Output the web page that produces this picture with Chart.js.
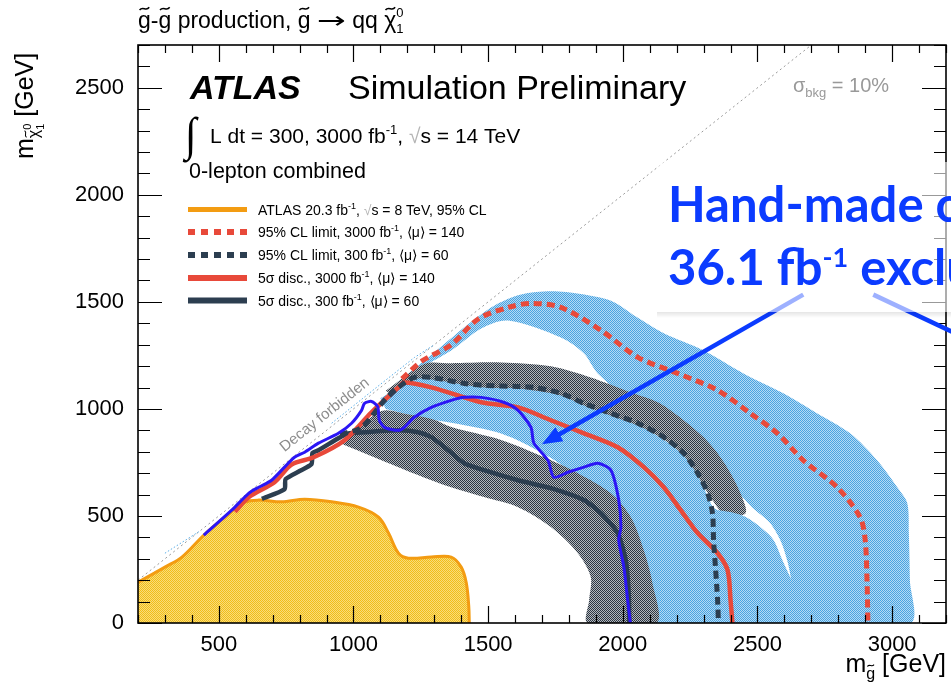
<!DOCTYPE html>
<html>
<head>
<meta charset="utf-8">
<script src="https://cdn.jsdelivr.net/npm/chart.js@4.4.1/dist/chart.umd.min.js"></script>
<style>
  html, body { margin: 0; padding: 0; background: #fff; }
  canvas { display: block; }
</style>
</head>
<body>
<canvas id="c" width="951" height="698"></canvas>
<script>
// ---------- axis ticks ----------
const xTickLabels = [500, 1000, 1500, 2000, 2500, 3000];
const yTickLabels = [0, 500, 1000, 1500, 2000, 2500];

// ---------- contours, [m_gluino, m_neutralino] in GeV ----------
// kinematic limit m(chi) = m(gluino)
const kinLimit = [[200, 200], [2700, 2700]];

// ATLAS 20.3 fb-1, 8 TeV observed exclusion (filled down to zero)
const atlas8TeV = [[200, 190], [300, 261], [363, 308], [444, 410], [522, 494], [596, 564], [648, 574],
  [733, 566], [819, 578], [919, 566], [1019, 541], [1093, 494], [1130, 420], [1167, 326], [1204, 303],
  [1289, 308], [1363, 308], [1400, 261], [1419, 187], [1428, 80], [1430, 0]];

// +-1 sigma band of the 3000 fb-1 95% CL limit (outer edge, then inner edge back)
const band3000LimitOuter = [[1150, 1110], [1300, 1265], [1440, 1410], [1530, 1488], [1622, 1535], [1733, 1550],
  [1844, 1537], [1956, 1505], [2050, 1430], [2152, 1353], [2300, 1273], [2448, 1166], [2596, 1073], [2722, 979],
  [2844, 886], [2944, 760], [3019, 634], [3056, 560], [3062, 420], [3066, 200], [3068, 0]];
const band3000LimitInner = [[2635, 0], [2630, 100], [2625, 200], [2611, 290], [2585, 387], [2545, 470],
  [2480, 540], [2437, 597], [2289, 760], [2067, 993], [1907, 1166], [1856, 1259], [1770, 1334], [1574, 1413],
  [1474, 1376], [1363, 1273], [1230, 1180]];
// dotted outline of the same band close to the kinematic limit
const band3000EdgeLow = [[300, 326], [430, 430]];
const band3000EdgeHigh = [[919, 933], [1100, 1115], [1226, 1240], [1300, 1300]];

// +-1 sigma band of the 300 fb-1 95% CL limit
const band300LimitOuter = [[1120, 1085], [1263, 1210], [1363, 1213], [1548, 1217], [1733, 1199], [1881, 1147],
  [2030, 1077], [2130, 1031], [2226, 947], [2300, 868], [2352, 793], [2400, 700], [2437, 606], [2456, 513]];
const band300LimitInner = [[2380, 505], [2320, 600], [2270, 700], [2210, 800], [2120, 880], [1960, 955],
  [1780, 1040], [1611, 1080], [1485, 1085], [1289, 1110], [1150, 1060]];

// +-1 sigma band of the 3000 fb-1 5 sigma discovery
const band3000DiscOuter = [[1100, 1050], [1226, 1138], [1289, 1138], [1485, 1100], [1611, 1095], [1770, 1063],
  [1856, 1016], [1956, 968], [2056, 922], [2152, 856], [2226, 782], [2278, 688], [2315, 594], [2340, 535],
  [2400, 518], [2455, 496], [2518, 440], [2560, 387], [2594, 290], [2630, 190], [2655, 100], [2665, 0]];
const band3000DiscInner = [[2100, 0], [2090, 187], [2065, 340], [2020, 490], [1950, 600], [1833, 690],
  [1707, 790], [1548, 885], [1363, 935], [1250, 960], [1120, 1000]];

// +-1 sigma band of the 300 fb-1 5 sigma discovery
const band300DiscOuter = [[960, 850], [1104, 990], [1200, 975], [1300, 950], [1363, 915], [1548, 855],
  [1707, 775], [1833, 700], [1956, 606], [2030, 494], [2078, 340], [2110, 187], [2125, 0]];
const band300DiscInner = [[1870, 0], [1875, 107], [1881, 215], [1833, 326], [1733, 448], [1611, 541],
  [1485, 588], [1363, 634], [1289, 667], [1167, 728], [960, 835]];

// expected contours
const limit3000 = [[1180, 1140], [1252, 1222], [1363, 1300], [1463, 1420], [1574, 1474], [1659, 1493],
  [1770, 1474], [1919, 1367], [2056, 1241], [2204, 1166], [2352, 1087], [2474, 979], [2574, 886], [2670, 760],
  [2796, 634], [2881, 494], [2900, 387], [2907, 187], [2910, 0]];
const limit300 = [[950, 880], [1030, 914], [1115, 1040], [1167, 1101], [1226, 1147], [1289, 1147], [1411, 1119],
  [1485, 1110], [1611, 1105], [1670, 1101], [1770, 1073], [1856, 1026], [1956, 979], [2056, 933], [2152, 868],
  [2226, 793], [2278, 700], [2315, 606], [2333, 513], [2337, 387], [2344, 261], [2352, 107], [2355, 0]];
const disc3000 = [[560, 520], [611, 588], [707, 658], [770, 740], [852, 774], [967, 854], [1067, 984],
  [1167, 1101], [1189, 1124], [1289, 1101], [1474, 1031], [1611, 1007], [1733, 947], [1856, 886], [1981, 821],
  [2078, 728], [2152, 634], [2215, 527], [2278, 420], [2352, 326], [2389, 247], [2400, 107], [2407, 0]];
const disc300 = [[660, 580], [744, 625], [748, 672], [800, 710], [844, 742], [848, 795], [870, 807],
  [944, 863], [981, 886], [1041, 891], [1167, 900], [1241, 891], [1289, 868], [1352, 807], [1411, 746],
  [1485, 714], [1611, 667], [1733, 630], [1856, 574], [1919, 513], [1981, 420], [2011, 294], [2022, 140], [2024, 0]];

// 36.1 fb-1 exclusion contour
const excl36 = [[444, 410], [548, 527], [611, 606], [648, 634], [696, 667], [744, 728], [781, 774], [819, 798],
  [870, 840], [944, 886], [993, 933], [1030, 993], [1041, 1026], [1067, 1035], [1090, 1010], [1096, 947],
  [1115, 914], [1167, 900], [1189, 914], [1226, 961], [1289, 1007], [1363, 1040], [1411, 1054], [1474, 1054],
  [1560, 1030], [1611, 993], [1659, 914], [1670, 840], [1722, 760], [1744, 681], [1796, 704], [1856, 728],
  [1907, 746], [1956, 714], [1985, 574], [1993, 448], [1985, 387], [2004, 261], [2018, 107], [2028, 0]];

// arrows pointing at the 36.1 fb-1 contour: [from, to]
const arrowPoints = [[[2670, 1534], [1700, 835]], [[2930, 1534], [3400, 1255]]];

// legend texts
const seriesLabels = [
  [{t: 'ATLAS 20.3 fb'}, {t: '-1', sup: 1}, {t: ', '}, {t: '\u221A', root: 1}, {t: 's = 8 TeV, 95% CL'}],
  [{t: '95% CL limit, 3000 fb'}, {t: '-1', sup: 1}, {t: ', \u27E8\u03BC\u27E9 = 140'}],
  [{t: '95% CL limit, 300 fb'}, {t: '-1', sup: 1}, {t: ', \u27E8\u03BC\u27E9 = 60'}],
  [{t: '5\u03C3 disc., 3000 fb'}, {t: '-1', sup: 1}, {t: ', \u27E8\u03BC\u27E9 = 140'}],
  [{t: '5\u03C3 disc., 300 fb'}, {t: '-1', sup: 1}, {t: ', \u27E8\u03BC\u27E9 = 60'}]
];

// ---------- styles ----------
const FONT = '"Liberation Sans", Arial, Helvetica, sans-serif';
const RED = '#e8493a', DARK = '#2c3e50', ORANGE = '#f39c12', HAND = '#2b16f5', NOTE = '#0b3bff';

const mainCtx = document.getElementById('c').getContext('2d');
function checker(c1, c2) {
  const p = document.createElement('canvas');
  p.width = 2; p.height = 2;
  const g = p.getContext('2d');
  g.fillStyle = c2; g.fillRect(0, 0, 2, 2);
  g.fillStyle = c1; g.fillRect(0, 0, 1, 1); g.fillRect(1, 1, 1, 1);
  return mainCtx.createPattern(p, 'repeat');
}
const bluePat = checker('#4aa3e0', '#b3daf5');
const greyPat = checker('#2c3642', '#b4b8bd');
const yellowPat = checker('#f1bd1a', '#f9dc7a');

const pts = a => a.map(([x, y]) => ({x, y}));
function band(outer, inner, pattern, order) {
  return {data: pts(outer.concat(inner)), showLine: true, fill: 'shape', backgroundColor: pattern,
    borderWidth: 0, pointRadius: 0, tension: 0.3, order};
}
function curve(arr, color, width, dash, order, tension) {
  return {data: pts(arr), showLine: true, fill: false, borderColor: color, borderWidth: width,
    borderDash: dash, pointRadius: 0, tension: tension, order, borderCapStyle: 'butt', borderJoinStyle: 'round'};
}

const datasets = [
  curve(excl36, HAND, 3, [], 0, 0.25),
  curve(limit3000, RED, 5, [8, 5], 1, 0.3),
  curve(limit300, DARK, 5, [8, 5], 2, 0.3),
  curve(disc3000, RED, 4.5, [], 3, 0.3),
  curve(disc300, DARK, 4.5, [], 4, 0.2),
  {data: pts(atlas8TeV), showLine: true, fill: 'origin', backgroundColor: yellowPat, borderColor: ORANGE,
    borderWidth: 3, pointRadius: 0, tension: 0.35, order: 5},
  band(band300DiscOuter, band300DiscInner, greyPat, 6),
  band(band3000DiscOuter, band3000DiscInner, bluePat, 7),
  band(band300LimitOuter, band300LimitInner, greyPat, 8),
  band(band3000LimitOuter, band3000LimitInner, bluePat, 9),
  curve(band3000EdgeLow, '#5aaee8', 1, [1.5, 2], 10, 0),
  curve(band3000EdgeHigh, '#5aaee8', 1, [1.5, 2], 10, 0),
  curve(kinLimit, '#9a9a9a', 1, [2, 3], 11, 0)
];

// ---------- rich text helper (sub/superscripts, tildes) ----------
function tilde(ctx, cx, cy, w, size, color) {
  const a = size * 0.06;
  ctx.save();
  ctx.strokeStyle = color;
  ctx.lineWidth = Math.max(1, size * 0.065);
  ctx.beginPath();
  ctx.moveTo(cx - w / 2, cy + a);
  ctx.bezierCurveTo(cx - w * 0.15, cy - 2.4 * a, cx + w * 0.15, cy + 2.4 * a, cx + w / 2, cy - a);
  ctx.stroke();
  ctx.restore();
}
function run(ctx, x, y, parts, base, color, opt) {
  opt = opt || {};
  let cx = x;
  for (const p of parts) {
    let size = p.size || base;
    let dy = p.dy || 0;
    if (p.sup) { size = p.size || Math.round(base * 0.62); dy = p.dy || -base * 0.42; }
    ctx.font = (p.style || opt.style || '') + ' ' + size + 'px ' + (p.family || opt.family || FONT);
    const col = p.root ? '#b5b5b5' : (p.color || color);
    ctx.fillStyle = col;
    if (p.stack) {
      const w = Math.max(ctx.measureText(p.stack[0]).width, ctx.measureText(p.stack[1]).width);
      if (!opt.measure) {
        ctx.fillText(p.stack[0], cx, y + p.up);
        ctx.fillText(p.stack[1], cx, y + p.down);
      }
      cx += w;
      continue;
    }
    const sx = p.sx || 1;
    const w = ctx.measureText(p.t).width * sx;
    if (!opt.measure) {
      if (sx !== 1) {
        ctx.save();
        ctx.translate(cx, y + dy);
        ctx.scale(sx, 1);
        ctx.fillText(p.t, 0, 0);
        ctx.restore();
      } else {
        ctx.fillText(p.t, cx, y + dy);
      }
      if (p.tilde) tilde(ctx, cx + w / 2, y + dy - size * 0.84, size * 0.42, size, col);
    }
    cx += w;
  }
  return cx - x;
}

// ---------- frame with inward ticks on all sides ----------
const framePlugin = {
  id: 'frame',
  afterDatasetsDraw(chart) {
    const {ctx, chartArea: a, scales: {x, y}} = chart;
    ctx.save();
    ctx.strokeStyle = '#000';
    ctx.lineWidth = 1.2;
    ctx.beginPath();
    for (let v = 200; v <= 3200; v += 100) {
      const px = Math.round(x.getPixelForValue(v)) + 0.5;
      const len = v % 500 === 0 ? 17 : 8;
      ctx.moveTo(px, a.bottom); ctx.lineTo(px, a.bottom - len);
      ctx.moveTo(px, a.top); ctx.lineTo(px, a.top + len);
    }
    for (let v = 0; v <= 2700; v += 100) {
      const py = Math.round(y.getPixelForValue(v)) + 0.5;
      const len = v % 500 === 0 ? 24 : 12;
      ctx.moveTo(a.left, py); ctx.lineTo(a.left + len, py);
      ctx.moveTo(a.right, py); ctx.lineTo(a.right - len, py);
    }
    ctx.stroke();
    ctx.lineWidth = 1.6;
    ctx.strokeRect(a.left, a.top, a.right - a.left, a.bottom - a.top);
    ctx.restore();
  }
};

// ---------- labels, legend and annotations ----------
const decorPlugin = {
  id: 'decor',
  afterDraw(chart) {
    const {ctx, chartArea: a, scales: {x, y}} = chart;
    ctx.save();
    ctx.textAlign = 'left';
    ctx.textBaseline = 'alphabetic';

    // plot title
    run(ctx, 138, 28, [{t: 'g', tilde: 1}, {t: '-'}, {t: 'g', tilde: 1}, {t: ' production, '},
      {t: 'g', tilde: 1}, {t: ' '}, {t: '\u2192', family: '"DejaVu Sans"', sx: 1.5}, {t: ' qq '},
      {t: '\u03C7', tilde: 1}, {stack: ['0', '1'], size: 13, up: -11, down: 5}], 23, '#000');

    // y axis title
    ctx.save();
    ctx.translate(33, 159);
    ctx.rotate(-Math.PI / 2);
    run(ctx, 0, 0, [{t: 'm'}, {t: '\u03C7', size: 16, dy: 6, tilde: 1},
      {stack: ['0', '1'], size: 11, up: -2, down: 11}, {t: ' [GeV]'}], 25, '#000');
    ctx.restore();

    // x axis title, right aligned to the frame
    const xt = [{t: 'm'}, {t: 'g', size: 16, dy: 7, tilde: 1}, {t: ' [GeV]'}];
    const xw = run(ctx, 0, 0, xt, 25, '#000', {measure: true});
    run(ctx, a.right - xw, 672, xt, 25, '#000');

    // ATLAS label block
    run(ctx, 190, 99, [{t: 'ATLAS'}], 34, '#000', {style: 'italic bold'});
    run(ctx, 348, 99, [{t: 'Simulation Preliminary'}], 34, '#000');
    ctx.save();
    ctx.translate(185, 150);
    ctx.scale(1, 1.12);
    ctx.font = '42px "Liberation Serif", serif';
    ctx.fillStyle = '#000';
    ctx.fillText('\u222B', 0, 0);
    ctx.restore();
    run(ctx, 210, 143, [{t: 'L dt = 300, 3000 fb'}, {t: '-1', size: 13, dy: -9}, {t: ', '},
      {t: '\u221A', root: 1}, {t: 's = 14 TeV'}], 21, '#000');
    run(ctx, 189, 178, [{t: '0-lepton combined'}], 21.5, '#000');

    // legend
    const rows = [209.5, 232, 255, 278, 300.5];
    const styles = [
      {c: ORANGE, w: 5, d: []}, {c: RED, w: 6, d: [7, 6]}, {c: DARK, w: 6, d: [7, 6]},
      {c: RED, w: 6, d: []}, {c: DARK, w: 6, d: []}
    ];
    rows.forEach((ry, i) => {
      ctx.save();
      ctx.strokeStyle = styles[i].c;
      ctx.lineWidth = styles[i].w;
      ctx.setLineDash(styles[i].d);
      ctx.beginPath();
      ctx.moveTo(188, ry); ctx.lineTo(247, ry);
      ctx.stroke();
      ctx.restore();
      run(ctx, 258, ry + 5, seriesLabels[i], 14, '#000', {});
    });

    // systematic uncertainty note
    run(ctx, 793, 92, [{t: '\u03C3'}, {t: 'bkg', size: 13, dy: 5}, {t: ' = 10%'}], 20, '#999');

    // kinematic limit label along the diagonal
    const ang = Math.atan2(y.getPixelForValue(2000) - y.getPixelForValue(0),
      x.getPixelForValue(2000) - x.getPixelForValue(0));
    ctx.save();
    ctx.translate(x.getPixelForValue(765), y.getPixelForValue(765));
    ctx.rotate(ang);
    ctx.font = '15px ' + FONT;
    ctx.fillStyle = '#8c8c8c';
    ctx.fillText('Decay forbidden', 0, -9);
    ctx.restore();

    // arrows
    ctx.save();
    ctx.strokeStyle = NOTE;
    ctx.fillStyle = NOTE;
    ctx.lineWidth = 4.5;
    arrowPoints.forEach(([f, t], i) => {
      const x0 = x.getPixelForValue(f[0]), y0 = y.getPixelForValue(f[1]);
      const x1 = x.getPixelForValue(t[0]), y1 = y.getPixelForValue(t[1]);
      const ang2 = Math.atan2(y1 - y0, x1 - x0);
      const head = i === 0 ? 20 : 0;
      ctx.beginPath();
      ctx.moveTo(x0, y0);
      ctx.lineTo(x1 - head * 0.8 * Math.cos(ang2), y1 - head * 0.8 * Math.sin(ang2));
      ctx.stroke();
      if (head) {
        ctx.beginPath();
        ctx.moveTo(x1, y1);
        ctx.lineTo(x1 - head * Math.cos(ang2) + 8 * Math.sin(ang2), y1 - head * Math.sin(ang2) - 8 * Math.cos(ang2));
        ctx.lineTo(x1 - head * Math.cos(ang2) - 8 * Math.sin(ang2), y1 - head * Math.sin(ang2) + 8 * Math.cos(ang2));
        ctx.closePath();
        ctx.fill();
      }
    });
    ctx.restore();

    // translucent text box
    ctx.fillStyle = 'rgba(255,255,255,0.6)';
    ctx.fillRect(657, 162, 300, 150);
    const sh = ctx.createLinearGradient(0, 312, 0, 318);
    sh.addColorStop(0, 'rgba(0,0,0,0.10)');
    sh.addColorStop(1, 'rgba(0,0,0,0)');
    ctx.fillStyle = sh;
    ctx.fillRect(657, 312, 300, 6);

    const hand = {style: 'bold', family: 'Lato, "Open Sans", sans-serif'};
    run(ctx, 668, 222, [{t: 'Hand-made contour'}], 49, NOTE, hand);
    run(ctx, 668, 285, [{t: '36.1 fb'}, {t: '-1', size: 27, dy: -18}, {t: ' exclusion'}], 49, NOTE, hand);
    ctx.restore();
  }
};

new Chart(document.getElementById('c'), {
  type: 'scatter',
  data: {datasets},
  options: {
    responsive: false,
    animation: false,
    devicePixelRatio: 1,
    events: [],
    layout: {padding: {top: 45, right: 5, left: 0, bottom: 0}},
    plugins: {legend: {display: false}, tooltip: {enabled: false}},
    scales: {
      x: {
        type: 'linear', min: 200, max: 3200,
        grid: {display: false, drawTicks: false}, border: {display: false},
        afterBuildTicks: s => { s.ticks = xTickLabels.map(v => ({value: v})); },
        afterFit: s => { s.height = 75; },
        ticks: {callback: v => String(v), font: {family: FONT, size: 22}, color: '#000', padding: 9,
          maxRotation: 0, autoSkip: false}
      },
      y: {
        type: 'linear', min: 0, max: 2700,
        grid: {display: false, drawTicks: false}, border: {display: false},
        afterBuildTicks: s => { s.ticks = yTickLabels.map(v => ({value: v})); },
        afterFit: s => { s.width = 138; },
        ticks: {callback: v => String(v), font: {family: FONT, size: 22}, color: '#000', padding: 14,
          autoSkip: false}
      }
    }
  },
  plugins: [framePlugin, decorPlugin]
});
</script>
</body>
</html>
